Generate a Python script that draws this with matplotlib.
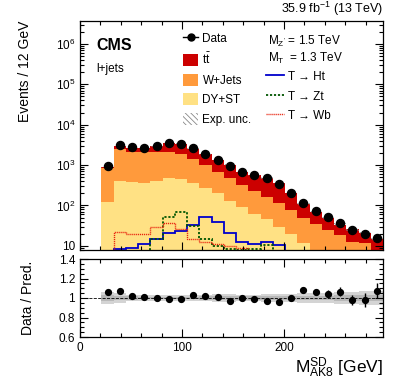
import matplotlib
matplotlib.use("Agg")
import matplotlib.pyplot as plt
import numpy as np
from matplotlib.patches import Patch
from matplotlib.lines import Line2D
from matplotlib.ticker import MultipleLocator, FuncFormatter, LogLocator, NullFormatter

plt.rcParams['font.family'] = ['Liberation Sans', 'DejaVu Sans']
plt.rcParams['mathtext.fontset'] = 'custom'
plt.rcParams['mathtext.rm'] = 'Liberation Sans'
plt.rcParams['mathtext.it'] = 'Liberation Sans:italic'
plt.rcParams['mathtext.bf'] = 'Liberation Sans:bold'
plt.rcParams['hatch.linewidth'] = 0.6

# 12 GeV bins in soft-drop mass
edges = np.arange(21, 298, 12)

data = [944, 3100, 2770, 2700, 2940, 3450, 3320, 2590, 1870, 1320, 960, 660,
        565, 470, 340, 200, 117, 74, 51, 36, 25, 20, 15.5]
data_err_rel = [0.012, 0.01, 0.01, 0.01, 0.01, 0.01, 0.01, 0.01, 0.012, 0.012, 0.015, 0.015,
                0.015, 0.018, 0.02, 0.02, 0.02, 0.03, 0.043, 0.043, 0.055, 0.07, 0.08]

# backgrounds (stacked bottom -> top)
dyst = [124, 405, 373, 364, 405, 486, 445, 355, 275, 200, 130, 90,
        62, 45, 30, 20, 11.7, 5, 3.5, 2.5, 1.8, 1.2, 0.8]
wjets = [706, 2045, 1767, 1696, 1735, 1574, 1415, 1025, 725, 480, 360, 230,
         170, 120, 85, 57, 38, 29, 21.5, 16, 11, 10.8, 6.2]
ttbar = [63, 453, 565, 624, 800, 1425, 1483, 1135, 833, 632, 505, 340,
         339, 318, 241, 122, 58, 36, 24, 15.3, 12.7, 8.4, 7.4]
exp_unc = [0.06, 0.05, 0.035, 0.03, 0.03, 0.03, 0.03, 0.03, 0.035, 0.04, 0.04, 0.035,
           0.035, 0.04, 0.04, 0.045, 0.05, 0.05, 0.05, 0.06, 0.065, 0.07, 0.07]

# signals, Z' 1.5 TeV, T 1.3 TeV
sig_ht = [5, 8.6, 9.1, 11, 14.6, 20.6, 24, 33, 52, 38, 21, 12.3,
          11.2, 12.8, 10.5, 1, 1, 1, 1, 1, 1, 1, 1]
sig_zt = [1, 1, 5, 7, 15, 52, 68, 31, 14.6, 10, 8.5, 8,
          8.5, 10.5, 7.5, 1, 1, 1, 1, 1, 1, 1, 1]
sig_wb = [5, 22, 19.5, 19.5, 29, 36, 26, 15, 12.5, 11, 10, 9,
          7.5, 7.5, 7.5, 7.5, 1, 1, 1, 1, 1, 1, 1]

c_tt = '#cc0000'
c_wj = '#ff9a3c'
c_dy = '#ffe184'
hatch = '\\\\\\\\\\\\'

dyst = np.array(dyst); wjets = np.array(wjets); ttbar = np.array(ttbar)
data = np.array(data)
total = dyst + wjets + ttbar
centers = 0.5 * (edges[:-1] + edges[1:])
ratio = data / total

fig = plt.figure(figsize=(4.07, 3.83), dpi=100)
ax = fig.add_axes([80/407, 133/383, 303/407, 229/383])
rax = fig.add_axes([80/407, 46/383, 303/407, 78/383])

ax.set_yscale('log')
ax.stairs(dyst, edges, baseline=1e-3, fill=True, color=c_dy, lw=0)
ax.stairs(dyst + wjets, edges, baseline=dyst, fill=True, color=c_wj, lw=0)
ax.stairs(total, edges, baseline=dyst + wjets, fill=True, color=c_tt, lw=0)
unc = np.array(exp_unc)
ax.stairs(total * (1 + unc), edges, baseline=total * (1 - unc), fill=True,
          facecolor='none', edgecolor='#888888', hatch=hatch, lw=0)

ax.stairs(sig_ht, edges, color='#0000cc', lw=1.3)
ax.stairs(sig_zt, edges, color='#005500', lw=1.3, ls=(0, (1.2, 1.0)))
ax.stairs(sig_wb, edges, color='#e8220e', lw=1.0, ls=(0, (0.8, 0.6)))

ax.errorbar(centers, data, yerr=data * np.array(data_err_rel), fmt='o', color='k',
            ms=5.8, elinewidth=1, capsize=0)

ax.set_xlim(0, 297)
ax.set_ylim(7.9, 3.7e6)
ax.yaxis.set_major_locator(LogLocator(base=10, numticks=10))
ax.yaxis.set_minor_locator(LogLocator(base=10, subs=np.arange(2, 10), numticks=20))
ax.yaxis.set_minor_formatter(NullFormatter())
ax.yaxis.set_major_formatter(FuncFormatter(
    lambda v, p: '10' if abs(v - 10) < 1e-6 else r'$10^{%d}$' % round(np.log10(v))))
ax.xaxis.set_major_locator(MultipleLocator(100))
ax.xaxis.set_minor_locator(MultipleLocator(20))
ax.tick_params(labelbottom=False)

for a in (ax, rax):
    a.tick_params(which='both', direction='in', top=True, right=True, labelsize=8.5, width=0.8)
    a.tick_params(which='major', length=6)
    a.tick_params(which='minor', length=3)
    for s in a.spines.values():
        s.set_linewidth(0.9)

ax.set_ylabel('Events / 12 GeV', fontsize=10, ha='right')
ax.yaxis.set_label_coords(-0.16, 1.0)

ax.text(0.055, 0.895, 'CMS', transform=ax.transAxes, fontsize=11.5, fontweight='bold', va='center')
ax.text(0.055, 0.79, 'l+jets', transform=ax.transAxes, fontsize=8.5, va='center')
ax.text(1.0, 1.015, r'35.9 fb$^{-1}$ (13 TeV)', transform=ax.transAxes, fontsize=9,
        ha='right', va='bottom')

left_handles = [
    Line2D([], [], marker='o', color='k', ms=5, lw=1),
    Patch(facecolor=c_tt, edgecolor='none'),
    Patch(facecolor=c_wj, edgecolor='none'),
    Patch(facecolor=c_dy, edgecolor='none'),
    Patch(facecolor='none', edgecolor='#888888', hatch=hatch, lw=0),
]
left_labels = ['Data', r'$\mathrm{t\bar{t}}$', 'W+Jets', 'DY+ST', 'Exp. unc.']
leg1 = ax.legend(left_handles, left_labels, loc='upper left', bbox_to_anchor=(0.34, 0.95),
                 frameon=False, fontsize=8.5, handlelength=1.3, handleheight=1.2,
                 handletextpad=0.35, labelspacing=0.55, borderpad=0, borderaxespad=0)
ax.add_artist(leg1)

right_handles = [
    Line2D([], [], color='#0000cc', lw=1.3),
    Line2D([], [], color='#005500', lw=1.3, ls=(0, (1.2, 1.0))),
    Line2D([], [], color='#e8220e', lw=1.0, ls=(0, (0.8, 0.6))),
]
right_labels = ['T \u2192 Ht', 'T \u2192 Zt', 'T \u2192 Wb']
ax.legend(right_handles, right_labels, loc='upper left', bbox_to_anchor=(0.615, 0.785),
          frameon=False, fontsize=8.5, handlelength=1.5, handleheight=1.2,
          handletextpad=0.35, labelspacing=0.55, borderpad=0, borderaxespad=0)
ax.text(0.62, 0.91, r"M$_{\mathrm{Z'}}$ = 1.5 TeV", transform=ax.transAxes, fontsize=8.5, va='center')
ax.text(0.62, 0.835, r"M$_{\mathrm{T}}$  = 1.3 TeV", transform=ax.transAxes, fontsize=8.5, va='center')

# ratio panel
rax.stairs(1 + unc, edges, baseline=1 - unc, fill=True, color='#d4d4d4', lw=0)
rax.stairs(1 + 0.5 * unc, edges, baseline=1 - 0.5 * unc, fill=True, color='#b8b8b8', lw=0)
rax.axhline(1, color='k', ls='--', lw=0.6)
rax.errorbar(centers, ratio, yerr=np.array(data_err_rel), fmt='o', color='k',
             ms=4.2, elinewidth=1, capsize=0)
rax.set_xlim(0, 297)
rax.set_ylim(0.6, 1.4)
rax.xaxis.set_major_locator(MultipleLocator(100))
rax.xaxis.set_minor_locator(MultipleLocator(20))
rax.yaxis.set_major_locator(MultipleLocator(0.2))
rax.yaxis.set_minor_locator(MultipleLocator(0.05))
rax.yaxis.set_major_formatter(FuncFormatter(lambda v, p: '%g' % round(v, 2)))
rax.set_ylabel('Data / Pred.', fontsize=10)
rax.yaxis.set_label_coords(-0.15, 0.5)
rax.set_xlabel(r'M$_{\mathrm{AK8}}^{\mathrm{SD}}$ [GeV]', fontsize=12.5, loc='right', labelpad=1)

fig.savefig('out.png', dpi=100)
